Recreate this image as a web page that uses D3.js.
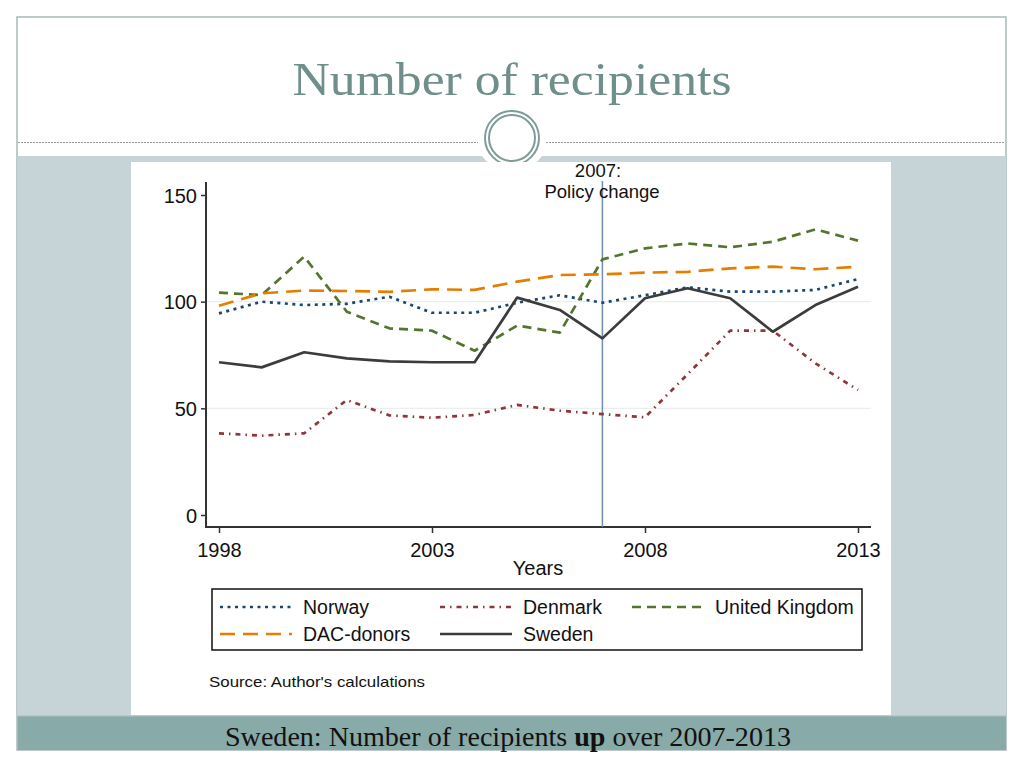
<!DOCTYPE html>
<html><head><meta charset="utf-8">
<script src="https://cdn.jsdelivr.net/npm/d3@7"></script>
<style>body{margin:0;background:#fff}svg{display:block}</style>
</head><body>
<script>
const years = d3.range(1998, 2014);
const norway  = [94.5,100,98.4,99,102.3,94.8,94.8,99.5,103,99.5,103,106.7,104.7,104.7,105.5,110.6];
const denmark = [38.3,37.2,38.3,53.9,46.7,45.6,46.9,51.6,48.9,47.3,45.8,66,86.4,86.4,71.1,58.6];
const uk      = [104.2,103.1,121.1,95.3,87.5,86.4,77,88.8,85.5,119.8,125,127.3,125.5,128.1,133.9,128.6];
const dac     = [98.1,103.9,105.2,105,104.6,105.8,105.5,109.4,112.5,112.8,113.6,114,115.6,116.4,115.2,116.4];
const sweden  = [71.6,69.2,76.3,73.4,72,71.6,71.6,101.9,96.1,82.8,101.6,106.3,101.6,85.9,98.4,107];
const yTicks = [0,50,100,150];
const xTicks = [1998,2003,2008,2013];
const seriesNames = ["Norway","Denmark","United Kingdom","DAC-donors","Sweden"];
const seriesData = [norway, denmark, uk, dac, sweden];
const seriesColors = ["#1a476f","#90353b","#55752f","#e37e00","#3c3c3c"];
const seriesDash = ["3,4.5","5,5,1.5,5","9,6","15,8",null];

const W = 1024, H = 768;
const svg = d3.select("body").append("svg").attr("width", W).attr("height", H);

// slide frame
svg.append("rect").attr("x",17).attr("y",17).attr("width",989).attr("height",733)
  .attr("fill","#fff").attr("stroke","#a9b9b8").attr("stroke-width",1.5);
// body background
svg.append("rect").attr("x",17.5).attr("y",156).attr("width",988.5).attr("height",560).attr("fill","#c6d3d7");
// white notch behind circle
svg.append("path").attr("d","M482,156 L542,156 L536,163 L488,163 Z").attr("fill","#fff");
// footer band
svg.append("rect").attr("x",17.5).attr("y",716).attr("width",988.5).attr("height",34).attr("fill","#88aaa8");
svg.append("line").attr("x1",17.5).attr("x2",1006).attr("y1",716).attr("y2",716).attr("stroke","#a9c0c2").attr("stroke-width",1);
// dotted separator
svg.append("line").attr("x1",18).attr("x2",478).attr("y1",142.5).attr("y2",142.5)
  .attr("stroke","#9a9a9a").attr("stroke-width",1).attr("stroke-dasharray","2,1");
svg.append("line").attr("x1",546).attr("x2",1005).attr("y1",142.5).attr("y2",142.5)
  .attr("stroke","#9a9a9a").attr("stroke-width",1).attr("stroke-dasharray","2,1");
// circle ornament
svg.append("circle").attr("cx",512).attr("cy",138).attr("r",27).attr("fill","#fff").attr("stroke","#7f9c99").attr("stroke-width",2);
svg.append("circle").attr("cx",512).attr("cy",138).attr("r",23).attr("fill","none").attr("stroke","#7f9c99").attr("stroke-width",2);

// title
svg.append("text").attr("x",512).attr("y",95).attr("text-anchor","middle")
  .attr("font-family","Liberation Serif, serif").attr("font-size",47).attr("fill","#6f8f8b")
  .attr("textLength",439).attr("lengthAdjust","spacingAndGlyphs")
  .text("Number of recipients");

// chart panel
svg.append("rect").attr("x",131).attr("y",162).attr("width",760).attr("height",553).attr("fill","#fff");

const x = d3.scaleLinear().domain([1998,2013]).range([219,858]);
const y = d3.scaleLinear().domain([0,150]).range([515,195]);
const font = "Liberation Sans, Arial, sans-serif";

// gridlines
svg.append("g").selectAll("line").data([50,100]).join("line")
  .attr("x1",206).attr("x2",871).attr("y1",d=>y(d)).attr("y2",d=>y(d))
  .attr("stroke","#ebeeef").attr("stroke-width",1.2);

// y axis
const ya = svg.append("g").attr("transform","translate(206,0)")
  .call(d3.axisLeft(y).tickValues(yTicks).tickSize(5).tickPadding(4).tickSizeOuter(0));
ya.select(".domain").remove();
ya.selectAll("line").attr("stroke","#333").attr("stroke-width",1.5);
ya.selectAll("text").attr("font-family",font).attr("font-size",20).attr("fill","#111").attr("dy","0.36em");
svg.append("line").attr("x1",206).attr("x2",206).attr("y1",182).attr("y2",528).attr("stroke","#333").attr("stroke-width",2);

// x axis
const xa = svg.append("g").attr("transform","translate(0,527)")
  .call(d3.axisBottom(x).tickValues(xTicks).tickFormat(d3.format("d")).tickSize(6).tickPadding(10).tickSizeOuter(0));
xa.select(".domain").remove();
xa.selectAll("line").attr("stroke","#333").attr("stroke-width",1.5);
xa.selectAll("text").attr("font-family",font).attr("font-size",20).attr("fill","#111");
svg.append("line").attr("x1",205).attr("x2",871).attr("y1",527).attr("y2",527).attr("stroke","#333").attr("stroke-width",2);

svg.append("text").attr("x",538).attr("y",575).attr("text-anchor","middle")
  .attr("font-family",font).attr("font-size",20).attr("fill","#111").text("Years");

// policy line
svg.append("line").attr("x1",x(2007)).attr("x2",x(2007)).attr("y1",181).attr("y2",527)
  .attr("stroke","#6f8db3").attr("stroke-width",1.5);
svg.append("text").attr("x",598).attr("y",177).attr("text-anchor","middle")
  .attr("font-family",font).attr("font-size",18.5).attr("fill","#111").text("2007:");
svg.append("text").attr("x",602).attr("y",198).attr("text-anchor","middle")
  .attr("font-family",font).attr("font-size",18.5).attr("fill","#111").text("Policy change");

// series
const line = d3.line().x((d,i)=>x(years[i])).y(d=>y(d));
seriesData.forEach((s,i)=>{
  svg.append("path").datum(s).attr("d",line).attr("fill","none")
    .attr("stroke",seriesColors[i]).attr("stroke-width",2.7)
    .attr("stroke-dasharray",seriesDash[i]).attr("stroke-linejoin","round");
});

// legend
svg.append("rect").attr("x",212).attr("y",589).attr("width",650).attr("height",61)
  .attr("fill","#fff").attr("stroke","#111").attr("stroke-width",1.5);
const legPos = [[220,607],[440,607],[632,607],[220,634],[440,634]];
seriesNames.forEach((n,i)=>{
  const [lx,ly] = legPos[i];
  svg.append("line").attr("x1",lx).attr("x2",lx+72).attr("y1",ly).attr("y2",ly)
    .attr("stroke",seriesColors[i]).attr("stroke-width",2.7).attr("stroke-dasharray",seriesDash[i]);
  svg.append("text").attr("x",lx+83).attr("y",ly).attr("dy","0.36em")
    .attr("font-family",font).attr("font-size",19.5).attr("fill","#111").text(n);
});

svg.append("text").attr("x",209).attr("y",687).attr("font-family",font).attr("font-size",15)
  .attr("textLength",216).attr("lengthAdjust","spacingAndGlyphs")
  .attr("fill","#111").text("Source: Author's calculations");

// footer text
const ft = svg.append("text").attr("x",225).attr("y",746)
  .attr("font-family","Liberation Serif, serif").attr("font-size",27).attr("fill","#111")
  .attr("textLength",566).attr("lengthAdjust","spacingAndGlyphs");
ft.append("tspan").text("Sweden: Number of recipients ");
ft.append("tspan").attr("font-weight","bold").text("up");
ft.append("tspan").text(" over 2007-2013");
</script>
</body></html>
